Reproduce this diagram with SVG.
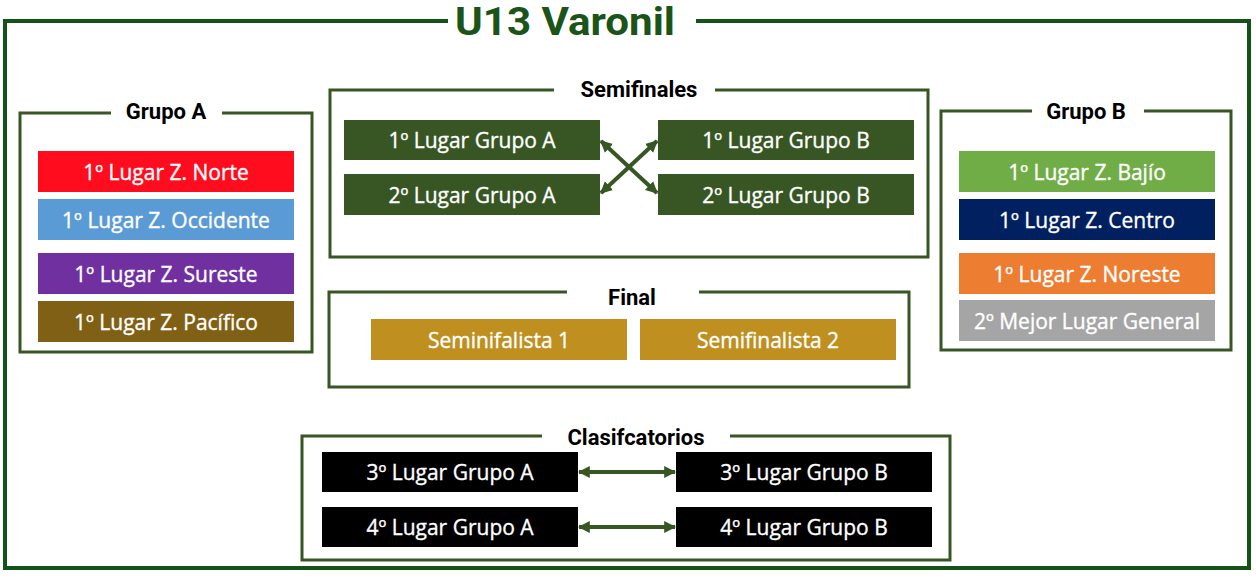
<svg xmlns="http://www.w3.org/2000/svg" width="1256" height="578" viewBox="0 0 1256 578">
<defs>
<marker id="ah" viewBox="0 0 10 10" refX="9" refY="5" markerWidth="3" markerHeight="3.2" orient="auto-start-reverse" markerUnits="strokeWidth">
<path d="M0,0 L10,5 L0,10 z" fill="#375623"/>
</marker>
<style>
.frame{fill:none;stroke:#375623;stroke-width:3}
.outer{fill:none;stroke:#155218;stroke-width:4}
.gap{fill:#fff}
.ttl{font-family:Roboto,"Liberation Sans",sans-serif;font-weight:bold;font-size:22px;fill:#000;text-anchor:middle}
.lbl{font-family:"Open Sans","Liberation Sans",sans-serif;font-size:21px;fill:#fff;stroke:#fff;stroke-width:0.35;text-anchor:middle;dominant-baseline:central}
.conn{stroke:#375623;stroke-width:4;fill:none;marker-start:url(#ah);marker-end:url(#ah)}
</style>
</defs>
<rect width="1256" height="578" fill="#fff"/>
<g id="outer">
<rect class="outer" x="5" y="21" width="1244" height="547"/>
<rect class="gap" x="448" y="10" width="248" height="24"/>
<text x="565" y="35" font-family="Roboto,'Liberation Sans',sans-serif" font-weight="bold" font-size="39" fill="#1a5418" text-anchor="middle" textLength="220" lengthAdjust="spacingAndGlyphs">U13 Varonil</text>
</g>
<g id="grupoA">
<rect class="frame" x="20" y="113" width="292" height="239"/>
<rect class="gap" x="111" y="105" width="111" height="14"/>
<text class="ttl" x="166" y="119">Grupo A</text>
<g id="a1"><rect x="38" y="151" width="256" height="41" fill="#ff0d1f"/><text class="lbl" x="166" y="172">1º Lugar Z. Norte</text></g>
<g id="a2"><rect x="38" y="199" width="256" height="41" fill="#5b9bd5"/><text class="lbl" x="166" y="220">1º Lugar Z. Occidente</text></g>
<g id="a3"><rect x="38" y="253" width="256" height="41" fill="#7030a0"/><text class="lbl" x="166" y="274">1º Lugar Z. Sureste</text></g>
<g id="a4"><rect x="38" y="301" width="256" height="41" fill="#7f6014"/><text class="lbl" x="166" y="322">1º Lugar Z. Pacífico</text></g>
</g>
<g id="grupoB">
<rect class="frame" x="941" y="111" width="290" height="239"/>
<rect class="gap" x="1032" y="103" width="112" height="14"/>
<text class="ttl" x="1086" y="119">Grupo B</text>
<g id="b1"><rect x="959" y="151" width="256" height="41" fill="#70ad47"/><text class="lbl" x="1087" y="172">1º Lugar Z. Bajío</text></g>
<g id="b2"><rect x="959" y="199" width="256" height="41" fill="#002060"/><text class="lbl" x="1087" y="220">1º Lugar Z. Centro</text></g>
<g id="b3"><rect x="959" y="253" width="256" height="41" fill="#ed7d31"/><text class="lbl" x="1087" y="274">1º Lugar Z. Noreste</text></g>
<g id="b4"><rect x="959" y="300" width="256" height="41" fill="#a5a5a5"/><text class="lbl" x="1087" y="321">2º Mejor Lugar General</text></g>
</g>
<g id="semifinales">
<rect class="frame" x="330" y="90" width="598" height="167"/>
<rect class="gap" x="554" y="82" width="161" height="14"/>
<text class="ttl" x="639" y="97">Semifinales</text>
<g id="s1"><rect x="344" y="120" width="256" height="40" fill="#375623"/><text class="lbl" x="472" y="140">1º Lugar Grupo A</text></g>
<g id="s2"><rect x="344" y="174" width="256" height="41" fill="#375623"/><text class="lbl" x="472" y="195">2º Lugar Grupo A</text></g>
<g id="s3"><rect x="658" y="120" width="256" height="40" fill="#375623"/><text class="lbl" x="786" y="140">1º Lugar Grupo B</text></g>
<g id="s4"><rect x="658" y="174" width="256" height="41" fill="#375623"/><text class="lbl" x="786" y="195">2º Lugar Grupo B</text></g>
</g>
<g id="final">
<rect class="frame" x="329" y="292" width="580" height="95"/>
<rect class="gap" x="567" y="284" width="132" height="14"/>
<text class="ttl" x="632" y="305">Final</text>
<g id="f1"><rect x="371" y="319" width="256" height="41" fill="#bf8f20"/><text class="lbl" x="499" y="340">Seminifalista 1</text></g>
<g id="f2"><rect x="640" y="319" width="256" height="41" fill="#bf8f20"/><text class="lbl" x="768" y="340">Semifinalista 2</text></g>
</g>
<g id="clasificatorios">
<rect class="frame" x="302" y="436" width="648" height="124"/>
<rect class="gap" x="542" y="428" width="188" height="14"/>
<text class="ttl" x="636" y="445">Clasifcatorios</text>
<g id="c1"><rect x="322" y="452" width="256" height="40" fill="#000"/><text class="lbl" x="450" y="472">3º Lugar Grupo A</text></g>
<g id="c2"><rect x="322" y="507" width="256" height="40" fill="#000"/><text class="lbl" x="450" y="527">4º Lugar Grupo A</text></g>
<g id="c3"><rect x="676" y="452" width="256" height="40" fill="#000"/><text class="lbl" x="804" y="472">3º Lugar Grupo B</text></g>
<g id="c4"><rect x="676" y="507" width="256" height="40" fill="#000"/><text class="lbl" x="804" y="527">4º Lugar Grupo B</text></g>
</g>
<g id="connectors">
<line class="conn" x1="601" y1="141" x2="657" y2="193"/>
<line class="conn" x1="601" y1="193" x2="657" y2="141"/>
<line class="conn" x1="579" y1="472" x2="675" y2="472"/>
<line class="conn" x1="579" y1="527" x2="675" y2="527"/>
</g>
</svg>
